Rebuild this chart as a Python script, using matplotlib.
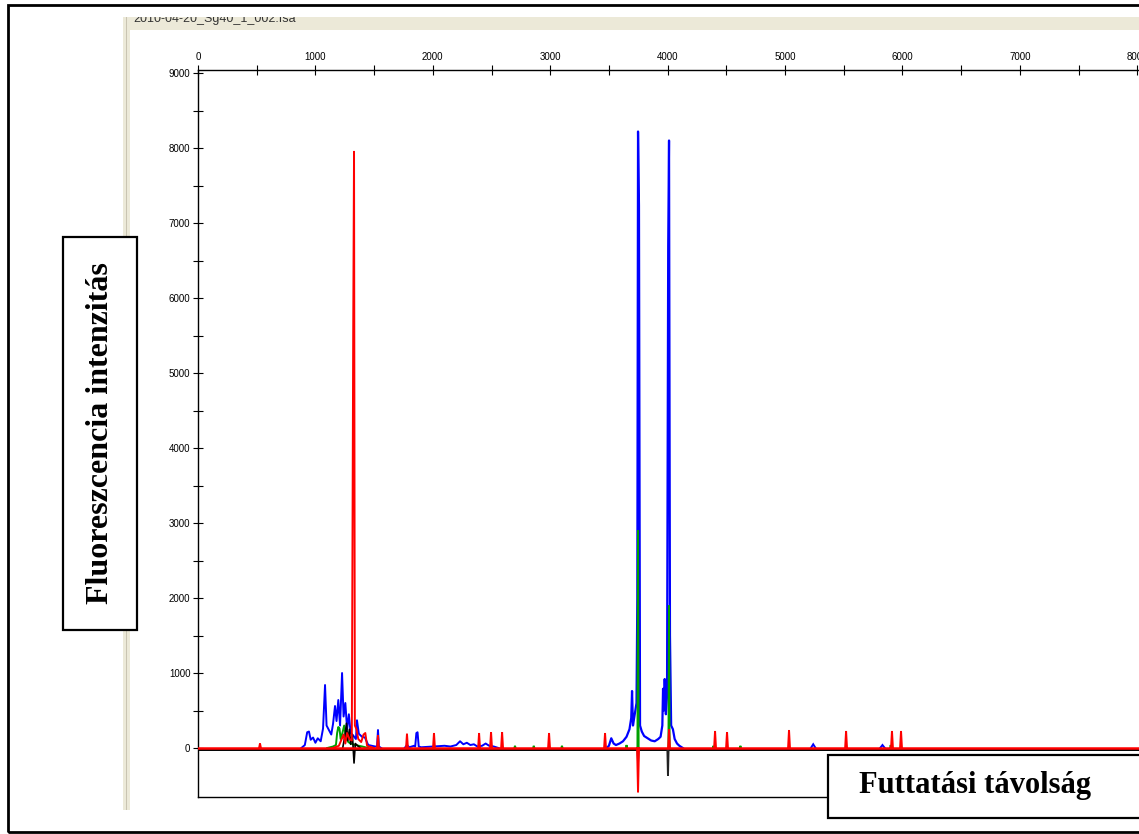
import numpy as np
import matplotlib
matplotlib.use("Agg")
import matplotlib.pyplot as plt
from matplotlib.patches import Rectangle

W, H = 1139, 834

# ---- data (scan position, fluorescence) ----
x_ticks = [0, 1000, 2000, 3000, 4000, 5000, 6000, 7000, 8000]
y_ticks = [0, 1000, 2000, 3000, 4000, 5000, 6000, 7000, 8000, 9000]

blue_c1_x = [880, 910, 930, 945, 960, 980, 1000, 1020, 1045, 1065, 1082, 1095, 1115, 1135,
             1150, 1167, 1180, 1195, 1210, 1227, 1240, 1255, 1270, 1285, 1300, 1320, 1345,
             1354, 1370, 1397, 1422, 1450, 1480, 1510, 1525, 1533, 1541, 1560]
blue_c1_y = [0, 40, 210, 220, 110, 140, 70, 130, 90, 260, 840, 300, 240, 180,
             320, 560, 360, 640, 300, 1000, 420, 600, 250, 450, 200, 170, 120,
             370, 190, 150, 140, 40, 30, 20, 20, 240, 20, 0]

blue_c2_x = [1760, 1780, 1800, 1840, 1850, 1860, 1870, 1880, 1900, 2000, 2100, 2150, 2200,
             2232, 2260, 2290, 2320, 2350, 2380, 2420, 2450, 2480, 2520, 2560]
blue_c2_y = [0, 40, 10, 30, 20, 200, 210, 20, 10, 20, 30, 20, 40,
             90, 50, 70, 40, 50, 20, 30, 60, 30, 20, 0]

blue_c3_x = [3480, 3500, 3520, 3540, 3560, 3590, 3620, 3650, 3675, 3690, 3697, 3705, 3720,
             3735, 3742, 3748, 3756, 3765, 3780, 3800, 3830, 3860, 3890, 3920, 3940, 3955,
             3961, 3968, 3975, 3985, 3995, 4005, 4012, 4020, 4030, 4045, 4060, 4080, 4100, 4130]
blue_c3_y = [0, 30, 130, 60, 40, 60, 90, 150, 250, 400, 760, 300, 450,
             600, 2000, 8220, 7230, 300, 220, 160, 130, 100, 90, 120, 150, 300,
             790, 500, 920, 450, 700, 6700, 8100, 1500, 300, 250, 120, 60, 30, 0]

blue_small_pos = [5240, 5830]
blue_small_h = [50, 40]

green_c1_x = [1100, 1150, 1175, 1185, 1195, 1205, 1215, 1230, 1245, 1260, 1280, 1300, 1340, 1400, 1450]
green_c1_y = [0, 20, 40, 200, 280, 260, 120, 200, 300, 150, 80, 60, 40, 20, 0]
green_spike_pos = [2700, 2860, 3100, 3650, 3748, 4012, 4390, 4620, 5900]
green_spike_h = [30, 30, 30, 40, 2900, 1900, 30, 30, 40]

black_c1_x = [1230, 1250, 1265, 1275, 1290, 1300, 1315, 1329, 1340, 1360, 1400]
black_c1_y = [-20, 150, 330, 100, 250, 50, 180, -200, 60, 30, -20]
black_spike_pos = [3748, 4003]
black_spike_h = [-190, -370]

red_c1_x = [1150, 1200, 1240, 1255, 1270, 1290, 1310, 1322, 1329, 1336, 1350, 1365, 1390,
            1410, 1425, 1440, 1500]
red_c1_y = [0, 30, 180, 60, 200, 120, 100, 5550, 7950, 300, 250, 120, 80,
            180, 200, 30, 0]
red_spike_pos = [528, 1533, 1780, 2010, 2394, 2496, 2590, 2990, 3467, 3748, 4012,
                 4404, 4506, 5034, 5520, 5911, 5988]
red_spike_h = [60, 170, 190, 200, 200, 213, 213, 200, 200, -590, 250,
               227, 213, 240, 227, 227, 227]

x_max = 8015
y_min, y_max = -653, 9040


def fx(px):
    return px / W


def fy(py):
    return 1 - py / H


def draw_spikes(ax, pos, heights, color, base=0, half=9, z=2):
    for p, h in zip(pos, heights):
        ax.plot([p - half, p, p + half], [base, h, base], color=color, lw=1.4,
                solid_joinstyle='miter', zorder=z)


fig = plt.figure(figsize=(W / 100, H / 100), dpi=100)

# window chrome
fig.patches.append(Rectangle((fx(8), fy(832)), fx(W + 10) - fx(8), fy(5) - fy(832),
                             transform=fig.transFigure, fill=False, lw=2, ec='black'))
fig.patches.append(Rectangle((fx(123), fy(810)), fx(7), fy(17) - fy(810),
                             transform=fig.transFigure, fc='#ECE9D8', ec='none'))
fig.patches.append(Rectangle((fx(126), fy(810)), fx(1), fy(17) - fy(810),
                             transform=fig.transFigure, fc='#C9C4B2', ec='none'))
band = Rectangle((fx(130), fy(30)), fx(W) - fx(130), fy(17) - fy(30),
                 transform=fig.transFigure, fc='#ECE9D8', ec='none')
fig.patches.append(band)
title = fig.text(fx(133), fy(22), "2010-04-20_Sg40_1_002.fsa", fontsize=9,
                 family='Liberation Sans', color='#333333', va='baseline')
clip = Rectangle((fx(120), fy(34)), fx(W) - fx(120), fy(17) - fy(34),
                 transform=fig.transFigure)
title.set_clip_path(clip)
title.set_clip_on(True)

ax = fig.add_axes([fx(198), fy(797), fx(W) - fx(198), fy(70) - fy(797)])
ax.set_xlim(0, x_max)
ax.set_ylim(y_min, y_max)
ax.spines['right'].set_visible(False)
for s in ['left', 'top', 'bottom']:
    ax.spines[s].set_linewidth(1.0)

ax.xaxis.tick_top()
ax.set_xticks(x_ticks)
ax.set_xticks([500 + 1000 * i for i in range(8)], minor=True)
ax.set_yticks(y_ticks)
ax.set_yticks([500 + 1000 * i for i in range(9)], minor=True)
ax.tick_params(axis='both', which='both', direction='inout', length=7, width=0.8,
               labelsize=7, pad=2)
for lab in ax.get_xticklabels() + ax.get_yticklabels():
    lab.set_family('Liberation Sans')

# traces
ax.plot([0, x_max], [-20, -20], color='black', lw=1.4, zorder=4)
ax.plot([0, x_max], [0, 0], color='#FF0000', lw=1.8, zorder=5)

ax.plot(blue_c1_x, blue_c1_y, color='#0000FF', lw=1.4, zorder=2)
ax.plot(blue_c2_x, blue_c2_y, color='#0000FF', lw=1.4, zorder=2)
ax.plot(blue_c3_x, blue_c3_y, color='#0000FF', lw=1.6, zorder=2)
draw_spikes(ax, blue_small_pos, blue_small_h, '#0000FF', half=20, z=2)

ax.plot(green_c1_x, green_c1_y, color='#00A000', lw=1.4, zorder=3)
draw_spikes(ax, green_spike_pos, green_spike_h, '#00A000', half=5, z=3)

ax.plot(black_c1_x, black_c1_y, color='black', lw=1.2, zorder=4)
draw_spikes(ax, black_spike_pos, black_spike_h, '#222222', base=-20, half=5, z=4)

ax.plot(red_c1_x, red_c1_y, color='#FF0000', lw=1.4, zorder=5)
draw_spikes(ax, red_spike_pos, red_spike_h, '#FF0000', half=8, z=5)

# label boxes
fig.patches.append(Rectangle((fx(63), fy(630)), fx(137) - fx(63), fy(237) - fy(630),
                             transform=fig.transFigure, fc='white', ec='black', lw=1.6,
                             zorder=10))
fig.text(fx(101), fy(433), "Fluoreszcencia intenzitás", rotation=90, ha='center',
         va='center', fontsize=23, fontweight='bold', family='Liberation Serif', zorder=11)

fig.patches.append(Rectangle((fx(828), fy(818)), fx(W + 10) - fx(828), fy(755) - fy(818),
                             transform=fig.transFigure, fc='white', ec='black', lw=1.6,
                             zorder=10))
fig.text(fx(975), fy(786), "Futtatási távolság", ha='center', va='center',
         fontsize=22, fontweight='bold', family='Liberation Serif', zorder=11)

fig.savefig("out.png", dpi=100)
